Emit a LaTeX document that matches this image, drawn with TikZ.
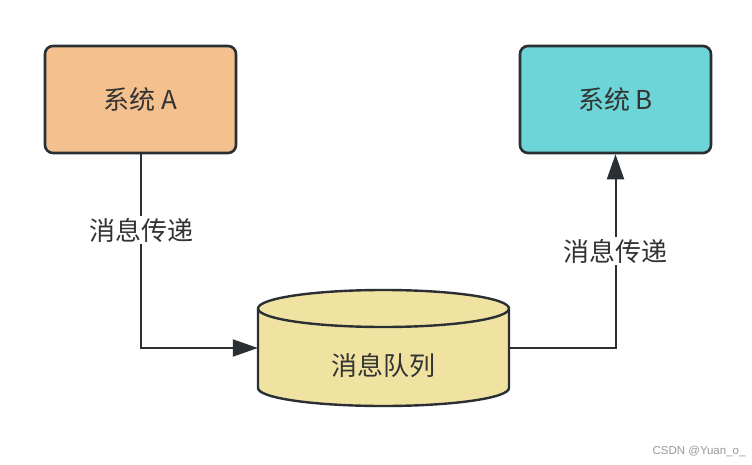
\documentclass[tikz,border=0pt]{standalone}
\usepackage{fontspec}
\setmainfont{Noto Sans CJK SC}
\newfontfamily\wmfont{Liberation Sans}
\usetikzlibrary{arrows.meta}
\definecolor{fillA}{HTML}{F4C18E}
\definecolor{fillB}{HTML}{6DD5D7}
\definecolor{fillC}{HTML}{F0E3A2}
\definecolor{strokec}{HTML}{2A2F33}
\definecolor{txtc}{HTML}{333333}
\tikzset{
  sysbox/.style={draw=strokec, line width=2.6pt, rounded corners=8pt, minimum width=191pt, minimum height=107pt, inner sep=0pt, text=txtc, font=\fontsize{26}{30}\selectfont},
  lbl/.style={fill=white, text=txtc, inner sep=2pt, font=\fontsize{26}{30}\selectfont},
  conn/.style={draw=strokec, line width=2pt, -{Triangle[length=25pt,width=17pt]}},
}
\begin{document}
\begin{tikzpicture}[x=1pt,y=-1pt]
\useasboundingbox[fill=white] (0,0) rectangle (752,465);
\node[sysbox, fill=fillA] (A) at (140.5,99.5) {系统 A};
\node[sysbox, fill=fillB] (B) at (615.5,99.5) {系统 B};
% cylinder
\path[fill=fillC, draw=strokec, line width=2.4pt] (258,308.5) -- (258,388) arc[start angle=180, end angle=0, x radius=125.5, y radius=18] -- (509,308.5) arc[start angle=0, end angle=-180, x radius=125.5, y radius=18.5] -- cycle;
\draw[strokec, line width=2.4pt] (258,308.5) arc[start angle=180, end angle=0, x radius=125.5, y radius=18.5];
\node[minimum width=251pt, minimum height=116pt, inner sep=0pt] (Q) at (383.5,348) {};
\node[text=txtc, font=\fontsize{26}{30}\selectfont] (Qt) at (383.5,366) {消息队列};
\coordinate (c1) at (A.south |- Q.west);
\coordinate (c2) at (B.south |- Q.east);
\draw[conn] (A.south) -- (c1) -- (Q.west);
\draw[conn] (Q.east) -- (c2) -- (B.south);
\node[lbl] (l1) at (141,230) {消息传递};
\node[lbl] (l2) at (615,251) {消息传递};
\node[text=gray!80, font=\wmfont\fontsize{11.5}{13}\selectfont, anchor=east] (wm) at (749,451) {CSDN @Yuan\_o\_};
\end{tikzpicture}
\end{document}
